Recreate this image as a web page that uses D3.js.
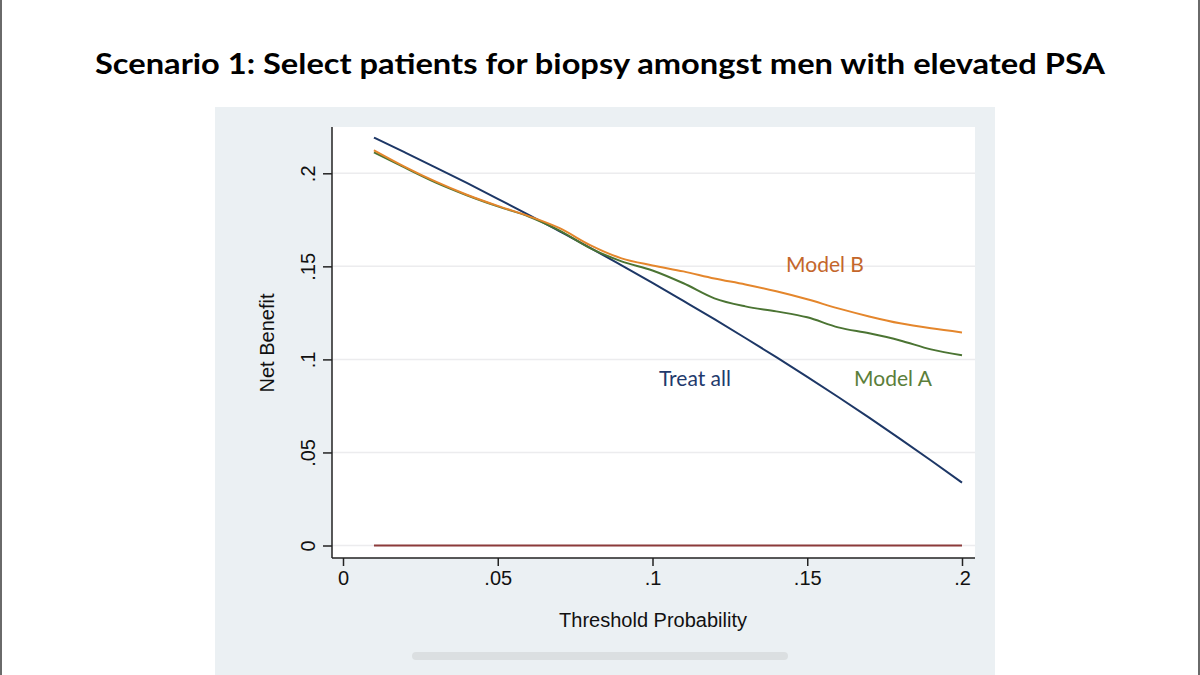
<!DOCTYPE html>
<html><head><meta charset="utf-8">
<script src="https://cdn.jsdelivr.net/npm/d3@7"></script>
<style>html,body{margin:0;padding:0;background:#fff;}svg{display:block;}</style>
</head><body>
<script>
const thresholds = [0.01,0.02,0.03,0.04,0.05,0.06,0.07,0.08,0.09,0.10,0.11,0.12,0.13,0.14,0.15,0.16,0.17,0.18,0.19,0.20];
const treatAll = [0.2192,0.2112,0.2031,0.1948,0.1863,0.1777,0.1688,0.1598,0.1505,0.1411,0.1314,0.1216,0.1115,0.1012,0.0906,0.0798,0.0687,0.0573,0.0457,0.0338];
const modelB = [0.2124,0.2035,0.1955,0.1885,0.1825,0.1770,0.1705,0.1613,0.1543,0.1505,0.1473,0.1435,0.1403,0.1366,0.1323,0.1274,0.1231,0.1194,0.1167,0.1145];
const modelA = [0.2113,0.2030,0.1950,0.1882,0.1822,0.1768,0.1692,0.1597,0.1527,0.1478,0.1409,0.1328,0.1285,0.1258,0.1226,0.1172,0.1140,0.1102,0.1054,0.1022];
const treatNone = [0,0,0,0,0,0,0,0,0,0,0,0,0,0,0,0,0,0,0,0];
const xTicks = [0,0.05,0.1,0.15,0.2];
const xTickLabels = ["0",".05",".1",".15",".2"];
const yTicks = [0,0.05,0.1,0.15,0.2];
const yTickLabels = ["0",".05",".1",".15",".2"];
const seriesNames = ["Treat all","Model A","Model B"];

(function(){
const W=1200,H=675;
const svg=d3.select("body").append("svg").attr("width",W).attr("height",H);
svg.append("rect").attr("width",W).attr("height",H).attr("fill","#fff");
// side borders
svg.append("rect").attr("x",0).attr("y",0).attr("width",2).attr("height",H).attr("fill","#6a6a6a");
svg.append("rect").attr("x",W-2).attr("y",0).attr("width",2).attr("height",H).attr("fill","#6a6a6a");

// title
svg.append("text").attr("x",600).attr("y",74).attr("text-anchor","middle")
  .attr("font-family","Lato, 'Open Sans', sans-serif").attr("font-weight","bold").attr("font-size",29)
  .attr("fill","#000").attr("textLength",1010).attr("lengthAdjust","spacingAndGlyphs")
  .text("Scenario 1: Select patients for biopsy amongst men with elevated PSA");

// gray panel
svg.append("rect").attr("x",215).attr("y",107).attr("width",780).attr("height",H-107).attr("fill","#ebf0f3");
// scrollbar
svg.append("rect").attr("x",412).attr("y",652).attr("width",376).attr("height",8).attr("rx",4).attr("fill","#dbdfe1");

const pL=332,pR=975,pT=127,pB=558;
svg.append("rect").attr("x",pL).attr("y",pT).attr("width",pR-pL).attr("height",pB-pT).attr("fill","#fff");

const x=d3.scaleLinear().domain([0,0.2]).range([343,962]);
const y=d3.scaleLinear().domain([0,0.2]).range([545.5,173.3]);

// gridlines
svg.append("g").selectAll("line").data(yTicks).join("line")
  .attr("x1",pL).attr("x2",pR).attr("y1",d=>y(d)).attr("y2",d=>y(d))
  .attr("stroke","#ececee").attr("stroke-width",1.5);

// axes
const fontAx="'Liberation Sans', Arial, sans-serif";
const yAxis=d3.axisLeft(y).tickValues(yTicks).tickFormat((d,i)=>yTickLabels[i]).tickSize(9).tickSizeOuter(0);
const gy=svg.append("g").attr("transform",`translate(${pL},0)`).call(yAxis);
gy.select(".domain").remove();
gy.append("line").attr("x1",0).attr("x2",0).attr("y1",pT).attr("y2",pB).attr("stroke","#222").attr("stroke-width",1.5);
gy.selectAll(".tick line").attr("stroke","#222").attr("stroke-width",1.5);
gy.selectAll(".tick text").attr("font-family",fontAx).attr("font-size",20).attr("fill","#111")
  .attr("text-anchor","middle").attr("x",0).attr("y",0).attr("dy",0)
  .attr("transform","translate(-17,0) rotate(-90)");

const xAxis=d3.axisBottom(x).tickValues(xTicks).tickFormat((d,i)=>xTickLabels[i]).tickSize(8).tickSizeOuter(0);
const gx=svg.append("g").attr("transform",`translate(0,${pB})`).call(xAxis);
gx.select(".domain").remove();
gx.append("line").attr("x1",pL).attr("x2",pR).attr("y1",0).attr("y2",0).attr("stroke","#222").attr("stroke-width",1.5);
gx.selectAll(".tick line").attr("stroke","#222").attr("stroke-width",1.5);
gx.selectAll(".tick text").attr("font-family",fontAx).attr("font-size",20).attr("fill","#111").attr("y",13);

// axis titles
svg.append("text").attr("transform","translate(274,343) rotate(-90)").attr("text-anchor","middle")
  .attr("font-family",fontAx).attr("font-size",20).attr("fill","#111").text("Net Benefit");
svg.append("text").attr("x",653).attr("y",627).attr("text-anchor","middle")
  .attr("font-family",fontAx).attr("font-size",20).attr("fill","#111").text("Threshold Probability");

// lines
const line=d3.line().x((d,i)=>x(thresholds[i])).y(d=>y(d)).curve(d3.curveMonotoneX);
const series=[
  {v:treatNone,c:"#8c3b3b"},
  {v:treatAll,c:"#1d3766"},
  {v:modelA,c:"#4b7433"},
  {v:modelB,c:"#e4862c"}
];
svg.append("g").selectAll("path").data(series).join("path")
  .attr("d",d=>line(d.v)).attr("fill","none").attr("stroke",d=>d.c).attr("stroke-width",2);

// labels
const fontLab="Lato, 'Open Sans', sans-serif";
const labs=[
  {t:seriesNames[0],x:695,y:386,c:"#1f3a6d"},
  {t:seriesNames[1],x:893,y:386,c:"#5b7e3a"},
  {t:seriesNames[2],x:825,y:272,c:"#c4662b"}
];
svg.append("g").selectAll("text").data(labs).join("text")
  .attr("x",d=>d.x).attr("y",d=>d.y).attr("text-anchor","middle")
  .attr("font-family",fontLab).attr("font-size",21).attr("fill",d=>d.c).text(d=>d.t);
})();
</script>
</body></html>
